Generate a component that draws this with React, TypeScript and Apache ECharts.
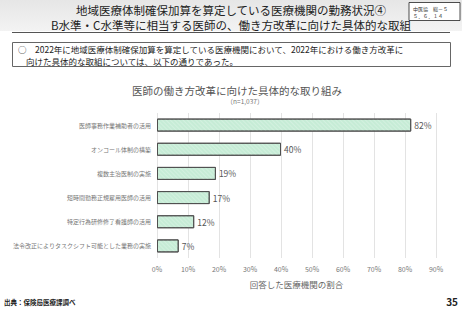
import React, { useEffect, useRef } from "react";
import * as echarts from "echarts";

const categories = [
  "医師事務作業補助者の活用",
  "オンコール体制の構築",
  "複数主治医制の実施",
  "短時間勤務正規雇用医師の活用",
  "特定行為研修修了看護師の活用",
  "法令改正によりタスクシフト可能とした業務の実施",
];
const values = [82, 40, 19, 17, 12, 7];
const xTicks = { min: 0, max: 90, interval: 10 };

const FONT = '"Noto Sans CJK JP", "Noto Sans", sans-serif';

export default function App() {
  const ref = useRef<HTMLDivElement>(null);
  useEffect(() => {
    if (!ref.current) return;
    const chart = echarts.init(ref.current, undefined, { renderer: "svg" });
    chart.setOption({
      animation: false,
      backgroundColor: "#ffffff",
      textStyle: { fontFamily: FONT },
      grid: { left: 157, right: 26, top: 113, bottom: 62, containLabel: false },
      xAxis: {
        type: "value",
        min: xTicks.min,
        max: xTicks.max,
        interval: xTicks.interval,
        axisLabel: {
          formatter: "{value}%",
          fontSize: 7,
          color: "#777",
          margin: 7,
          fontFamily: FONT,
        },
        axisLine: { show: false },
        axisTick: { show: false },
        splitLine: { show: true, lineStyle: { color: "#e3e3e3", width: 1 } },
        name: "回答した医療機関の割合",
        nameLocation: "middle",
        nameGap: 22,
        nameTextStyle: { fontSize: 8.5, color: "#666", fontFamily: FONT },
      },
      yAxis: {
        type: "category",
        data: categories,
        inverse: true,
        axisLine: { show: false },
        axisTick: { show: false },
        axisLabel: { fontSize: 6, color: "#777", margin: 6, fontFamily: FONT },
      },
      series: [
        {
          type: "bar",
          data: values,
          barWidth: 13,
          itemStyle: {
            color: "#c6ecd6",
            borderColor: "#505050",
            borderWidth: 1,
            decal: {
              symbol: "rect",
              symbolSize: 1,
              dashArrayX: [1, 0],
              dashArrayY: [1, 2],
              rotation: Math.PI / 4,
              color: "rgba(255,255,255,0.22)",
            },
          },
          label: {
            show: true,
            position: "right",
            distance: 3,
            formatter: "{c}%",
            fontSize: 8.5,
            color: "#555",
            fontFamily: FONT,
          },
        },
      ],
      graphic: [
        {
          type: "rect",
          shape: { x: 0, y: 0, width: 462, height: 31 },
          style: {
            fill: new echarts.graphic.LinearGradient(0, 0, 0, 1, [
              { offset: 0, color: "#e6e6e6" },
              { offset: 1, color: "#f3f3f3" },
            ]),
          },
          silent: true,
        },
        {
          type: "text",
          x: 231,
          y: 9.5,
          style: {
            text: "地域医療体制確保加算を算定している医療機関の勤務状況④",
            fontSize: 11.5,
            fontWeight: "normal",
            fill: "#222",
            fontFamily: FONT,
            align: "center",
            verticalAlign: "middle",
          },
        },
        {
          type: "text",
          x: 231,
          y: 24.5,
          style: {
            text: "B水準・C水準等に相当する医師の、働き方改革に向けた具体的な取組",
            fontSize: 11.5,
            fontWeight: "normal",
            fill: "#222",
            fontFamily: FONT,
            align: "center",
            verticalAlign: "middle",
          },
        },
        {
          type: "rect",
          shape: { x: 409, y: 2.5, width: 51, height: 18 },
          style: { fill: "#ffffff", stroke: "#222", lineWidth: 0.8 },
        },
        {
          type: "text",
          x: 413,
          y: 8,
          style: {
            text: "中医協　総－５",
            fontSize: 5,
            fill: "#333",
            fontFamily: FONT,
            verticalAlign: "middle",
          },
        },
        {
          type: "text",
          x: 413,
          y: 15,
          style: {
            text: "５．６．１４",
            fontSize: 5,
            fill: "#333",
            fontFamily: FONT,
            verticalAlign: "middle",
          },
        },
        {
          type: "line",
          shape: { x1: 12, y1: 32.5, x2: 450, y2: 32.5 },
          style: { stroke: "#555", lineWidth: 1 },
        },
        {
          type: "rect",
          shape: { x: 12.5, y: 42.5, width: 438, height: 24 },
          style: { fill: "#ffffff", stroke: "#666", lineWidth: 1 },
        },
        {
          type: "text",
          x: 18,
          y: 49,
          style: {
            text: "○　2022年に地域医療体制確保加算を算定している医療機関において、2022年における働き方改革に",
            fontSize: 8.5,
            fill: "#222",
            fontFamily: FONT,
            verticalAlign: "middle",
          },
        },
        {
          type: "text",
          x: 26,
          y: 60.5,
          style: {
            text: "向けた具体的な取組については、以下の通りであった。",
            fontSize: 8.5,
            fill: "#222",
            fontFamily: FONT,
            verticalAlign: "middle",
          },
        },
        {
          type: "text",
          x: 237,
          y: 90,
          style: {
            text: "医師の働き方改革に向けた具体的な取り組み",
            fontSize: 10.5,
            fill: "#555",
            fontFamily: FONT,
            align: "center",
            verticalAlign: "middle",
          },
        },
        {
          type: "text",
          x: 245,
          y: 101,
          style: {
            text: "（n=1,037）",
            fontSize: 6.5,
            fill: "#777",
            fontFamily: FONT,
            align: "center",
            verticalAlign: "middle",
          },
        },
        {
          type: "text",
          x: 4,
          y: 302,
          style: {
            text: "出典：保険局医療課調べ",
            fontSize: 6.5,
            fontWeight: "bold",
            fill: "#222",
            fontFamily: FONT,
            verticalAlign: "middle",
          },
        },
        {
          type: "text",
          x: 458,
          y: 301,
          style: {
            text: "35",
            fontSize: 10,
            fontWeight: "bold",
            fill: "#222",
            fontFamily: FONT,
            align: "right",
            verticalAlign: "middle",
          },
        },
      ],
    });
    return () => chart.dispose();
  }, []);
  return (
    <div
      ref={ref}
      style={{ position: "fixed", left: 0, top: 0, width: 462, height: 320 }}
    />
  );
}
